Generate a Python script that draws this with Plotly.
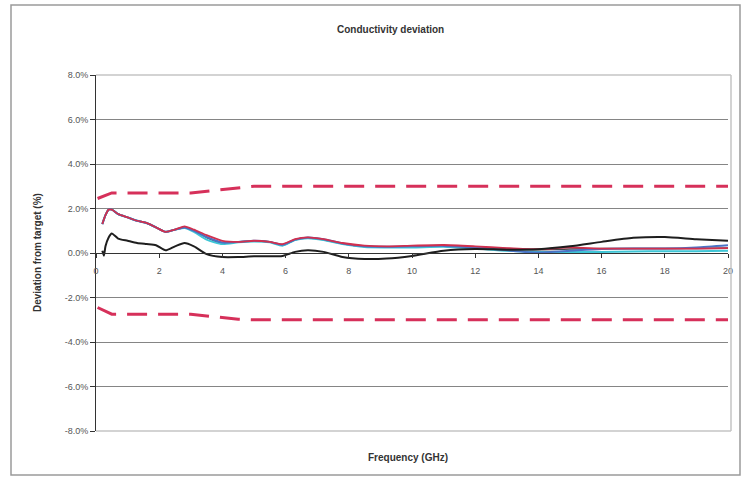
import plotly.graph_objects as go

# ---- data ----
freq_upper = [0.2, 0.3, 0.4, 0.5, 0.7, 1.0, 1.3, 1.6, 1.9, 2.2, 2.5, 2.8, 3.1, 3.5, 4.0, 4.5, 5.0, 5.5,
              5.9, 6.3, 6.7, 7.2, 7.8, 8.5, 9.2, 10, 11, 12, 13, 14, 15, 16, 17, 18, 19, 20]
gray_dev = [1.3, 1.7, 1.95, 1.95, 1.75, 1.6, 1.45, 1.35, 1.15, 0.95, 1.05, 1.15, 1.0, 0.7, 0.45, 0.5, 0.55, 0.5,
            0.35, 0.6, 0.68, 0.6, 0.42, 0.3, 0.28, 0.3, 0.33, 0.27, 0.2, 0.15, 0.18, 0.2, 0.2, 0.2, 0.2, 0.22]
red_dev = [1.3, 1.7, 1.95, 1.95, 1.75, 1.6, 1.45, 1.35, 1.15, 0.95, 1.05, 1.2, 1.05, 0.8, 0.55, 0.5, 0.55, 0.5,
           0.4, 0.62, 0.7, 0.62, 0.45, 0.33, 0.3, 0.33, 0.36, 0.3, 0.22, 0.17, 0.25, 0.2, 0.2, 0.2, 0.2, 0.22]
blue_dev = [1.3, 1.7, 1.95, 1.95, 1.75, 1.6, 1.45, 1.35, 1.15, 0.95, 1.05, 1.15, 1.0, 0.72, 0.47, 0.5, 0.55, 0.5,
            0.37, 0.6, 0.7, 0.62, 0.43, 0.3, 0.28, 0.3, 0.32, 0.25, 0.12, 0.02, 0.1, 0.18, 0.2, 0.2, 0.25, 0.35]
cyan_dev = [1.3, 1.7, 1.95, 1.95, 1.75, 1.6, 1.45, 1.35, 1.15, 0.95, 1.05, 1.12, 0.95, 0.6, 0.4, 0.48, 0.52, 0.48,
            0.33, 0.58, 0.66, 0.58, 0.4, 0.27, 0.25, 0.25, 0.28, 0.2, 0.1, 0.05, 0.05, 0.05, 0.07, 0.08, 0.08, 0.1]

freq_black = [0.2, 0.25, 0.3, 0.4, 0.5, 0.7, 1.0, 1.3, 1.6, 1.9, 2.2, 2.5, 2.8, 3.1, 3.5, 4.0, 4.5, 5.0, 5.5,
              5.9, 6.3, 6.7, 7.2, 7.8, 8.5, 9.2, 10, 11, 12, 13, 14, 15, 16, 17, 18, 19, 20]
black_dev = [0.1, -0.12, 0.3, 0.7, 0.88, 0.65, 0.55, 0.45, 0.4, 0.35, 0.12, 0.3, 0.45, 0.3, -0.05, -0.18, -0.18,
             -0.15, -0.15, -0.13, 0.05, 0.12, 0.05, -0.18, -0.27, -0.25, -0.13, 0.1, 0.18, 0.15, 0.17, 0.3, 0.5,
             0.68, 0.72, 0.62, 0.55]

freq_limit = [0.05, 0.3, 0.5, 3.0, 4.5, 5.0, 20]
upper_limit = [2.45, 2.6, 2.7, 2.7, 2.95, 3.0, 3.0]
lower_limit = [-2.45, -2.6, -2.75, -2.75, -2.98, -3.0, -3.0]

y_ticks = [-8, -6, -4, -2, 0, 2, 4, 6, 8]
x_ticks = [0, 2, 4, 6, 8, 10, 12, 14, 16, 18, 20]

title_text = "Conductivity deviation"
x_title = "Frequency (GHz)"
y_title = "Deviation from target (%)"

# ---- layout geometry ----
W, H = 744, 479
L, R, T, B = 96, 16, 75, 48
PW, PH = W - L - R, H - T - B


def px(xp):
    return (xp - L) / PW


def py(yp):
    return (H - B - yp) / PH


fig = go.Figure()

limit_color = "#d6305a"
fig.add_trace(go.Scatter(x=freq_limit, y=upper_limit, mode="lines",
                         line=dict(color=limit_color, width=3, dash="20px,11px"), hoverinfo="skip"))
fig.add_trace(go.Scatter(x=freq_limit, y=lower_limit, mode="lines",
                         line=dict(color=limit_color, width=3, dash="20px,11px"), hoverinfo="skip"))

for yv, col, w in [(gray_dev, "#4a4a4a", 1.6), (cyan_dev, "#3fc6d6", 2), (blue_dev, "#4a72c4", 2),
                   (red_dev, "#d0304f", 1.8)]:
    fig.add_trace(go.Scatter(x=freq_upper, y=yv, mode="lines",
                             line=dict(color=col, width=w, shape="spline", smoothing=0.6)))
fig.add_trace(go.Scatter(x=freq_black, y=black_dev, mode="lines",
                         line=dict(color="#1e1e1e", width=2, shape="spline", smoothing=0.6)))

font_family = "Liberation Sans, Arial, sans-serif"

fig.update_layout(
    width=W, height=H,
    margin=dict(l=L, r=R, t=T, b=B),
    paper_bgcolor="white", plot_bgcolor="white",
    showlegend=False,
    font=dict(family=font_family, size=9, color="#444"),
    xaxis=dict(range=[0, 20], tickvals=x_ticks, ticktext=[str(v) for v in x_ticks],
               anchor="free", position=0.5, showline=True, linecolor="#333", linewidth=1,
               ticks="outside", ticklen=4, tickcolor="#333", showgrid=False, zeroline=False,
               ticklabelstandoff=5, tickfont=dict(size=9, color="#555")),
    yaxis=dict(range=[-8, 8], tickvals=y_ticks, ticktext=[f"{v:.1f}%" for v in y_ticks],
               showline=True, linecolor="#333", linewidth=1, ticks="outside", ticklen=5,
               tickcolor="#333", showgrid=True, gridcolor="#858585", gridwidth=1, zeroline=False,
               tickfont=dict(size=9, color="#555")),
)

# plot-area border (top, right, bottom) in light gray
for (x0, y0, x1, y1) in [(0, 1, px(731), 1), (px(731), 0, px(731), 1), (0, 0, px(731), 0)]:
    fig.add_shape(type="line", xref="paper", yref="paper", x0=x0, y0=y0, x1=x1, y1=y1,
                  line=dict(color="#c4c4c4", width=1.5), layer="above")

# outer chart border
fig.add_shape(type="rect", xref="paper", yref="paper", x0=px(11), y0=py(475), x1=px(740), y1=py(5),
              line=dict(color="#9a9a9a", width=1.5), layer="above")

fig.add_annotation(text=f"<b>{title_text}</b>", xref="paper", yref="paper", x=px(390), y=py(29),
                   showarrow=False, font=dict(size=10, color="#333"), xanchor="center", yanchor="middle")
fig.add_annotation(text=f"<b>{x_title}</b>", xref="paper", yref="paper", x=px(408), y=py(458),
                   showarrow=False, font=dict(size=10, color="#333"), xanchor="center", yanchor="middle")
fig.add_annotation(text=f"<b>{y_title}</b>", xref="paper", yref="paper", x=px(37), y=py(253),
                   showarrow=False, textangle=-90, font=dict(size=10, color="#333"),
                   xanchor="center", yanchor="middle")

fig.write_html("out.html", config={"displayModeBar": False},
               post_script="document.body.style.margin='0';document.body.style.overflow='hidden';")
